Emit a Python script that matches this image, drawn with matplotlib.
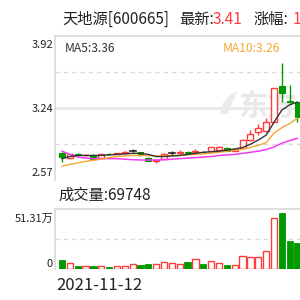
import matplotlib
matplotlib.use("Agg")
import matplotlib.pyplot as plt
from matplotlib.patches import Rectangle, Polygon

plt.rcParams['font.family'] = ['Noto Sans CJK SC', 'DejaVu Sans']

# ---- data ----
opens  = [2.825, 2.775, 2.815, 2.80, 2.80, 2.78, 2.815, 2.815, 2.82, 2.84, 2.83, 2.78, 2.745, 2.77, 2.82, 2.82,
          2.83, 2.83, 2.835, 2.845, 2.855, 2.87, 2.845, 2.87, 2.945, 3.016, 3.026, 3.11, 3.45, 3.31, 3.30]
closes = [2.79, 2.81, 2.805, 2.805, 2.77, 2.81, 2.81, 2.82, 2.83, 2.84, 2.80, 2.75, 2.755, 2.815, 2.82, 2.83,
          2.825, 2.84, 2.83, 2.875, 2.875, 2.845, 2.86, 2.945, 3.005, 3.054, 3.11, 3.43, 3.39, 3.30, 3.16]
highs  = [2.83, 2.815, 2.825, 2.81, 2.81, 2.815, 2.825, 2.825, 2.84, 2.86, 2.835, 2.785, 2.76, 2.82, 2.84, 2.85,
          2.845, 2.86, 2.845, 2.88, 2.89, 2.875, 2.87, 2.95, 3.04, 3.095, 3.148, 3.43, 3.67, 3.46, 3.30]
lows   = [2.74, 2.77, 2.795, 2.795, 2.765, 2.775, 2.80, 2.81, 2.815, 2.835, 2.795, 2.745, 2.73, 2.765, 2.80, 2.81,
          2.81, 2.82, 2.825, 2.84, 2.845, 2.84, 2.84, 2.865, 2.94, 2.995, 3.02, 3.11, 3.30, 3.29, 3.11]
volumes = [77000, 51000, 28000, 26000, 26000, 26000, 20000, 22000, 28000, 40000, 34000, 43000, 40000, 57000,
           49000, 43000, 60000, 83000, 43000, 68000, 51000, 34000, 34000, 111000, 100000, 100000, 157000,
           433000, 479000, 242000, 222000]
ma5  = [2.77, 2.79, 2.80, 2.80, 2.80, 2.80, 2.805, 2.81, 2.815, 2.82, 2.82, 2.81, 2.79, 2.79, 2.795, 2.80,
        2.81, 2.82, 2.83, 2.835, 2.84, 2.85, 2.86, 2.875, 2.905, 2.945, 2.99, 3.11, 3.225, 3.275, 3.30]
ma10 = [2.70, 2.715, 2.73, 2.745, 2.755, 2.765, 2.78, 2.79, 2.795, 2.80, 2.80, 2.80, 2.795, 2.795, 2.80, 2.80,
        2.805, 2.81, 2.815, 2.82, 2.83, 2.84, 2.85, 2.86, 2.875, 2.895, 2.92, 3.01, 3.06, 3.10, 3.15]
ma20 = [2.84, 2.81, 2.785, 2.775, 2.77, 2.77, 2.77, 2.77, 2.765, 2.76, 2.758, 2.756, 2.758, 2.76, 2.765, 2.77,
        2.775, 2.78, 2.785, 2.79, 2.80, 2.805, 2.81, 2.82, 2.83, 2.84, 2.855, 2.88, 2.915, 2.94, 2.96]
price_ticks = [3.92, 3.24, 2.57]
price_labels = ["3.92", "3.24", "2.57"]
vol_max = 513100
vol_labels = ["51.31万", "0"]
title_name = "天地源[600665]"
latest = "3.41"
change = "1.19%"
ma5_label = "MA5:3.36"
ma10_label = "MA10:3.26"
vol_title = "成交量:69748"
date_label = "2021-11-12"

RED = "#ff3b3b"
GREEN = "#009a00"
ORANGE = "#f5a631"
MAGENTA = "#f03cf0"
GRID = "#d9d9d9"

W = H = 300.0
fig = plt.figure(figsize=(3, 3), dpi=100)

def px(x, y):
    return x / W, 1 - y / H

n = len(opens)
pitch = 7.85
xmin = -7.0 / pitch
xmax = xmin + 245.0 / pitch

# ---- price panel ----
axp = fig.add_axes([55 / W, 1 - 180 / H, 245 / W, 144 / H])
axp.set_xlim(xmin, xmax)
axp.set_ylim(2.57, 3.92)
for s in ['right', 'bottom']:
    axp.spines[s].set_visible(False)
for s in ['left', 'top']:
    axp.spines[s].set_color(GRID)
    axp.spines[s].set_linewidth(1.2)
axp.set_xticks([]); axp.set_yticks([])
lo, hi = 2.57, 3.92
axp.axhline(lo + (hi - lo) * 0.75, color=GRID, lw=1, ls=(0, (3, 3)), zorder=0.5)
axp.axhline(lo + (hi - lo) * 0.25, color=GRID, lw=1, ls=(0, (3, 3)), zorder=0.5)
axp.axhline(lo + (hi - lo) * 0.5, color="#e6e6e6", lw=1.8, zorder=0.5)

# watermark (logo + text)
def ax_frac(x, y):
    return (x - 55) / 245, (180 - y) / 144
leaf = [ax_frac(220, 114), ax_frac(223, 103), ax_frac(230, 95), ax_frac(238, 91),
        ax_frac(234, 99), ax_frac(230, 107), ax_frac(228, 114)]
axp.add_patch(Polygon(leaf, closed=True, transform=axp.transAxes, facecolor="#ebebeb",
                      edgecolor='none', zorder=0.6))
axp.text(*ax_frac(238, 106), "东方", transform=axp.transAxes, fontsize=21,
         color="#e8e8e8", style='italic', fontweight='bold', ha='left', va='center', zorder=0.6)

bw = 0.76
for i in range(n):
    o, c, h, l = opens[i], closes[i], highs[i], lows[i]
    if c > o:
        col = RED
    elif c < o:
        col = GREEN
    else:
        col = "#222222"
    axp.plot([i, i], [l, h], color=col, lw=1, zorder=2, solid_capstyle='butt')
    if c == o:
        axp.plot([i - bw / 2, i + bw / 2], [o, o], color=col, lw=1.2, zorder=3)
    elif c > o:
        axp.add_patch(Rectangle((i - bw / 2, o), bw, c - o, facecolor='white', edgecolor=col, lw=1, zorder=3))
    else:
        axp.add_patch(Rectangle((i - bw / 2, c), bw, o - c, facecolor=col, edgecolor=col, lw=0.8, zorder=3))

xs = list(range(n))
axp.plot(xs, ma20, color=MAGENTA, lw=1.1, zorder=4)
axp.plot(xs, ma10, color=ORANGE, lw=1.0, zorder=4)
axp.plot(xs, ma5, color="#333333", lw=1.0, zorder=4)

# ---- volume panel ----
axv = fig.add_axes([55 / W, 1 - 269 / H, 245 / W, 60 / H])
axv.set_xlim(xmin, xmax)
axv.set_ylim(0, vol_max)
for s in ['right', 'bottom']:
    axv.spines[s].set_visible(False)
for s in ['left', 'top']:
    axv.spines[s].set_color(GRID)
    axv.spines[s].set_linewidth(1.2)
axv.set_xticks([]); axv.set_yticks([])
axv.axhline(vol_max / 2, color=GRID, lw=1, ls=(0, (3, 3)), zorder=0.5)
vw = 0.8
for i in range(n):
    if closes[i] >= opens[i]:
        axv.add_patch(Rectangle((i - vw / 2, 0), vw, volumes[i], facecolor='white', edgecolor=RED, lw=1, zorder=3))
    else:
        axv.add_patch(Rectangle((i - vw / 2, 0), vw, volumes[i], facecolor=GREEN, edgecolor=GREEN, lw=0.6, zorder=3))

# ---- texts ----
def ftext(x, y, s, **kw):
    fig.text(*px(x, y), s, **kw)

tfs = 11
ftext(62, 24, title_name, fontsize=tfs, color="#222222", va='baseline')
ftext(179, 24, "最新:", fontsize=tfs, color="#222222", va='baseline')
ftext(213, 24, latest, fontsize=tfs, color=RED, va='baseline')
ftext(253, 24, "涨幅:", fontsize=tfs, color="#222222", va='baseline')
ftext(293, 24, change, fontsize=tfs, color=RED, va='baseline')

ftext(65, 52, ma5_label, fontsize=8.7, color="#333333", va='baseline')
ftext(223, 52, ma10_label, fontsize=8.7, color=ORANGE, va='baseline')

lfs = 8
ftext(53, 47.5, price_labels[0], fontsize=lfs, color="#222222", ha='right', va='baseline')
ftext(53, 112.5, price_labels[1], fontsize=lfs, color="#222222", ha='right', va='baseline')
ftext(53, 176.5, price_labels[2], fontsize=lfs, color="#222222", ha='right', va='baseline')

ftext(58, 200, vol_title, fontsize=tfs, color="#222222", va='baseline')
ftext(53, 222, vol_labels[0], fontsize=lfs, color="#222222", ha='right', va='baseline')
ftext(53, 267, vol_labels[1], fontsize=lfs, color="#222222", ha='right', va='baseline')

ftext(56, 290, date_label, fontsize=12, color="#222222", va='baseline')

fig.savefig("out.png", dpi=100, facecolor='white')
